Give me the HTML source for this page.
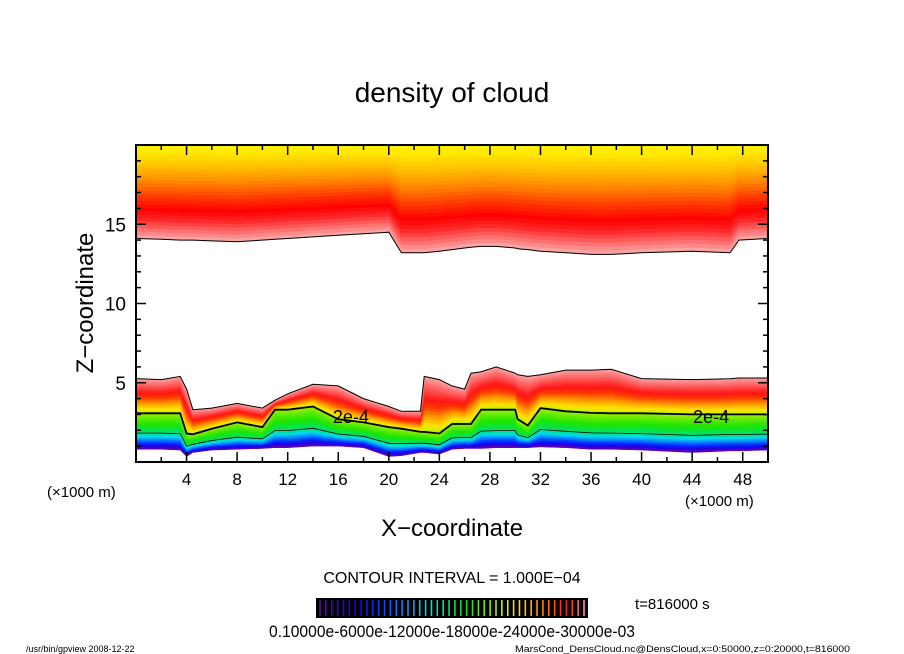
<!DOCTYPE html>
<html><head><meta charset="utf-8"><style>
body{margin:0;background:#fff;}
svg{display:block;font-family:"Liberation Sans",sans-serif;}
</style></head><body>
<svg id="chart" width="904" height="654" viewBox="0 0 904 654" xmlns="http://www.w3.org/2000/svg">
<defs><clipPath id="pc"><rect x="136" y="145" width="632" height="317"/></clipPath></defs>
<rect width="904" height="654" fill="#fff"/>
<text x="452" y="102" font-size="28" text-anchor="middle">density of cloud</text>
<g id="plot" clip-path="url(#pc)"></g>
<g id="axes"></g>
<text transform="translate(93,303) rotate(-90)" font-size="24" text-anchor="middle">Z−coordinate</text>
<text x="452" y="536" font-size="24" text-anchor="middle">X−coordinate</text>
<text x="47" y="497" font-size="15">(×1000 m)</text>
<text x="685" y="506" font-size="15">(×1000 m)</text>
<text x="452" y="583" font-size="16" text-anchor="middle">CONTOUR INTERVAL = 1.000E−04</text>
<g id="cbar"></g>
<text x="452" y="637" font-size="17" text-anchor="middle" textLength="366" lengthAdjust="spacingAndGlyphs">0.10000e-6000e-12000e-18000e-24000e-30000e-03</text>
<text x="635" y="609" font-size="15">t=816000 s</text>
<text x="26" y="652" font-size="9">/usr/bin/gpview  2008-12-22</text>
<text x="515" y="652" font-size="9" textLength="335" lengthAdjust="spacingAndGlyphs">MarsCond_DensCloud.nc@DensCloud,x=0:50000,z=0:20000,t=816000</text>
</svg>
<script>
const xs      =[0,2,3.5,4,4.5,6,8,10,11,12,14,16,18,20,21,22.5,22.8,24,25,26,26.5,27.3,28.5,30,30.2,31,32,34,36,37.6,40,44,47,47.7,50];
const upperEdge=[14.1,14.05,14.0,14.0,14.0,13.95,13.9,14.0,14.05,14.1,14.2,14.3,14.4,14.5,13.2,13.2,13.2,13.3,13.4,13.5,13.55,13.6,13.6,13.5,13.45,13.4,13.3,13.2,13.1,13.1,13.2,13.3,13.2,14.0,14.1];
const lowerTop =[5.26,5.2,5.4,4.6,3.3,3.4,3.7,3.4,3.9,4.3,4.9,4.8,4.0,3.5,3.2,3.2,5.4,5.2,4.8,4.6,5.6,5.7,6.0,5.6,5.5,5.4,5.5,5.8,5.8,5.85,5.26,5.2,5.25,5.3,5.3];
const contour2e4=[3.07,3.07,3.07,1.8,1.75,2.1,2.5,2.2,3.3,3.3,3.5,2.7,2.5,2.2,2.1,1.9,1.9,1.8,2.4,2.4,2.4,3.3,3.3,3.3,2.7,2.3,3.4,3.2,3.1,3.07,3.07,3.0,3.0,3.0,3.0];
const baseZ    =[0.8,0.8,0.75,0.35,0.6,0.75,0.8,0.85,0.9,0.9,1.0,1.0,0.9,0.35,0.4,0.6,0.6,0.5,0.8,0.85,0.85,0.85,0.9,0.9,0.9,0.9,0.95,0.9,0.8,0.8,0.75,0.6,0.7,0.7,0.75];
const xTickLabels=[4,8,12,16,20,24,28,32,36,40,44,48];
const yTickLabels=[5,10,15];
const cbarLevels=[0.1,0.6,1.2,1.8,2.4,3.0];

const X0=136,X1=768,Y0=462,Y1=145;
const sx=v=>X0+(v/50)*(X1-X0);
const sy=v=>Y0-(v/20)*(Y0-Y1);
const NS='http://www.w3.org/2000/svg';
const plot=document.getElementById('plot'),axes=document.getElementById('axes');
function mk(tag,attrs,parent){const e=document.createElementNS(NS,tag);for(const k in attrs)e.setAttribute(k,attrs[k]);parent.appendChild(e);return e;}
function band(lo,hi,color,name){
  let pts=[];
  for(let i=0;i<xs.length;i++)pts.push(sx(xs[i]).toFixed(1)+','+sy(hi(i)).toFixed(1));
  for(let i=xs.length-1;i>=0;i--)pts.push(sx(xs[i]).toFixed(1)+','+sy(Math.min(lo(i),hi(i))).toFixed(1));
  const p=mk('polygon',{points:pts.join(' '),fill:color,stroke:color,'stroke-width':0.5},plot);
  
  
}
function lerpC(stops,t){
  for(let i=0;i<stops.length-1;i++){if(t<=stops[i+1][0]){const a=stops[i],b=stops[i+1];const f=(t-a[0])/(b[0]-a[0]||1);
    const c=a[1].map((v,j)=>Math.round(v+(b[1][j]-v)*f));return `rgb(${c})`;}}
  return `rgb(${stops[stops.length-1][1]})`;
}
const upStops=[[0,[250,175,175]],[0.08,[255,120,120]],[0.2,[255,40,40]],[0.3,[255,0,0]],[0.42,[255,50,0]],[0.58,[255,130,0]],[0.74,[255,190,0]],[0.88,[255,230,0]],[1,[255,248,0]]];
const NU=28;
for(let k=0;k<NU;k++){
  const f0=k/NU,f1=(k+1)/NU;
  band(i=>upperEdge[i]+(20.2-upperEdge[i])*f0,i=>upperEdge[i]+(20.2-upperEdge[i])*f1,lerpC(upStops,(f0+f1)/2),'upper-cloud-band');
}
const loStops=[[0,[110,0,170]],[0.08,[40,0,220]],[0.16,[0,30,255]],[0.26,[0,130,255]],[0.36,[0,220,230]],[0.5,[0,225,90]],[0.7,[30,230,0]],[0.88,[100,235,0]],[1,[160,240,0]]];
const NL=18;
for(let k=0;k<NL;k++){
  const f0=k/NL,f1=(k+1)/NL;
  band(i=>baseZ[i]+(contour2e4[i]-baseZ[i])*f0,i=>baseZ[i]+(contour2e4[i]-baseZ[i])*f1,lerpC(loStops,(f0+f1)/2),'lower-cloud-band');
}
const midStops=[[0,[170,240,0]],[0.12,[255,230,0]],[0.3,[255,150,0]],[0.45,[255,60,0]],[0.6,[255,20,20]],[0.8,[255,90,90]],[1,[250,160,160]]];
for(let k=0;k<NL;k++){
  const f0=k/NL,f1=(k+1)/NL;
  band(i=>contour2e4[i]+(lowerTop[i]-contour2e4[i])*f0,i=>contour2e4[i]+(lowerTop[i]-contour2e4[i])*f1,lerpC(midStops,(f0+f1)/2),'mid-cloud-band');
}
function line(arr,w,name){
  const pts=xs.map((x,i)=>sx(x).toFixed(1)+','+sy(arr(i)).toFixed(1)).join(' ');
  const l=mk('polyline',{points:pts,fill:'none',stroke:'#000','stroke-width':w},plot);
  
  
}
line(i=>upperEdge[i],1,'upper-edge-contour');
line(i=>lowerTop[i],1,'lower-top-contour');
line(i=>contour2e4[i],1.8,'contour-2e-4');
line(i=>baseZ[i]+(contour2e4[i]-baseZ[i])*0.45,0.8,'contour-1e-4');
[[17,2.9],[45.5,2.9]].forEach(p=>{
  const t=mk('text',{x:sx(p[0]),y:sy(p[1])+7,'font-size':18,'text-anchor':'middle'},plot);
  t.textContent='2e-4';
  
  
});
const fr=mk('rect',{x:X0,y:Y1,width:X1-X0,height:Y0-Y1,fill:'none',stroke:'#000','stroke-width':2},axes);


for(let v=0;v<=50;v+=2){
  const L=(v%4===0)?10:5;
  mk('line',{x1:sx(v),x2:sx(v),y1:Y0,y2:Y0-L,stroke:'#000','stroke-width':1.5},axes);
  mk('line',{x1:sx(v),x2:sx(v),y1:Y1,y2:Y1+L,stroke:'#000','stroke-width':1.5},axes);
}
for(let v=0;v<=20;v+=1){
  const L=(v%5===0)?10:5;
  mk('line',{x1:X0,x2:X0+L,y1:sy(v),y2:sy(v),stroke:'#000','stroke-width':1.5},axes);
  mk('line',{x1:X1,x2:X1-L,y1:sy(v),y2:sy(v),stroke:'#000','stroke-width':1.5},axes);
}
xTickLabels.forEach(v=>{
  const t=mk('text',{x:sx(v),y:485,'font-size':17,'text-anchor':'middle'},axes);
  t.textContent=v;
  
  
});
yTickLabels.forEach(v=>{
  const t=mk('text',{x:126,y:sy(v)+7,'font-size':19,'text-anchor':'end'},axes);
  t.textContent=v;
  
  
});
const cb=document.getElementById('cbar');
const CB0=316,CB1=588;
mk('rect',{x:CB0,y:598,width:CB1-CB0,height:20,fill:'#000'},cb);
const allStops=[[0,[110,0,170]],[0.15,[20,0,230]],[0.3,[0,120,255]],[0.42,[0,220,220]],[0.55,[0,220,60]],[0.68,[200,240,0]],[0.75,[255,220,0]],[0.85,[255,120,0]],[0.93,[255,20,20]],[1,[250,170,170]]];
const NC=46;
for(let k=0;k<NC;k++){
  const t=(k+0.5)/NC;
  const x=CB0+4+k*((CB1-CB0-8)/(NC-1));
  const l=mk('line',{x1:x,x2:x,y1:600,y2:616,stroke:lerpC(allStops,t),'stroke-width':1.6},cb);
  
  
}
</script>
</body></html>
